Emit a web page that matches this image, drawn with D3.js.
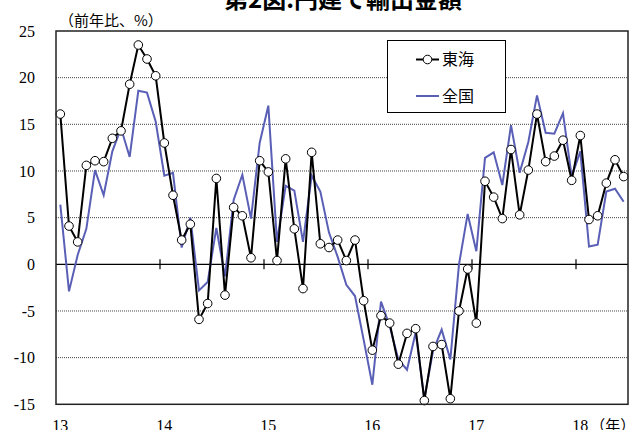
<!DOCTYPE html>
<html>
<head>
<meta charset="utf-8">
<script src="https://cdn.jsdelivr.net/npm/d3@7"></script>
<style>
  html, body { margin: 0; padding: 0; background: #fff; }
  svg { display: block; }
</style>
</head>
<body>
<svg id="chart" width="631" height="430"></svg>
<script>
// Monthly export value growth (yen basis), Jan 2013 – Jun 2018, year-on-year %
const months = d3.range(66).map(i => ({ year: 2013 + Math.floor(i / 12), month: (i % 12) + 1 }));

const tokai = [
  16.1, 4.1, 2.4, 10.6, 11.1, 11.0, 13.5, 14.3, 19.3, 23.5, 22.0, 20.2,
  13.0, 7.4, 2.6, 4.3, -5.9, -4.2, 9.2, -3.3, 6.1, 5.2, 0.7, 11.1,
  9.9, 0.4, 11.3, 3.8, -2.6, 12.0, 2.2, 1.8, 2.6, 0.4, 2.6, -3.9,
  -9.2, -5.5, -6.3, -10.7, -7.4, -6.9, -14.6, -8.8, -8.6, -14.4, -5.0, -0.5,
  -6.3, 8.9, 7.2, 4.9, 12.3, 5.3, 10.1, 16.1, 11.0, 11.6, 13.3, 9.0,
  13.8, 4.8, 5.2, 8.7, 11.2, 9.4
];

const zenkoku = [
  6.4, -2.9, 1.0, 3.8, 10.1, 7.4, 12.1, 14.6, 11.5, 18.6, 18.4, 15.3,
  9.5, 9.8, 1.8, 5.0, -2.8, -1.9, 3.9, -1.3, 6.9, 9.6, 4.9, 13.0,
  17.0, 2.4, 8.4, 7.9, 2.4, 9.5, 7.8, 3.4, 0.8, -2.2, -3.4, -8.1,
  -12.9, -4.0, -6.6, -10.2, -11.3, -7.3, -14.4, -9.3, -7.0, -10.2, 0.0, 5.4,
  1.4, 11.4, 12.0, 8.5, 14.9, 9.8, 13.1, 18.1, 14.1, 14.0, 16.2, 9.4,
  12.1, 1.9, 2.1, 7.8, 8.1, 6.7
];

const yearLabels = ["13", "14", "15", "16", "17", "18"];
const yTicks = [-15, -10, -5, 0, 5, 10, 15, 20, 25];
const seriesNames = ["東海", "全国"];

const svg = d3.select("#chart");
const W = 631, H = 430;
const plot = { left: 56, right: 628, top: 31, bottom: 404.3 };

const serif = "'Liberation Serif', 'Times New Roman', serif";
const cjk = "'Noto Sans CJK JP', 'Noto Sans', sans-serif";
const blue = "#5a5fb6";

// month index on a continuous scale: month i occupies [i, i+1]
const x = d3.scaleLinear().domain([0, months.length]).range([plot.left, plot.right]);
const y = d3.scaleLinear().domain([-15, 25]).range([plot.bottom, plot.top]);

// title
svg.append("text")
  .attr("x", 343).attr("y", 8)
  .attr("text-anchor", "middle")
  .attr("font-family", cjk).attr("font-weight", "bold")
  .attr("font-size", 24)
  .text("第2図:円建て輸出金額");

// unit label
svg.append("text")
  .attr("x", 59).attr("y", 26)
  .attr("font-family", cjk).attr("font-size", 15)
  .text("（前年比、%）");

// dotted gridlines
svg.append("g")
  .selectAll("line")
  .data(yTicks.filter(v => v !== 0 && v !== -15 && v !== 25))
  .join("line")
  .attr("x1", plot.left).attr("x2", plot.right)
  .attr("y1", d => y(d)).attr("y2", d => y(d))
  .attr("stroke", "#444").attr("stroke-width", 1)
  .attr("stroke-dasharray", "1,1");

// zero line with year ticks
svg.append("line")
  .attr("x1", plot.left).attr("x2", plot.right)
  .attr("y1", y(0)).attr("y2", y(0))
  .attr("stroke", "#000").attr("stroke-width", 1.2);

svg.append("g")
  .selectAll("line")
  .data(d3.range(1, yearLabels.length))
  .join("line")
  .attr("x1", k => x(k * 12)).attr("x2", k => x(k * 12))
  .attr("y1", y(0) - 5).attr("y2", y(0) + 5)
  .attr("stroke", "#000").attr("stroke-width", 1.2);

// y tick labels
svg.append("g")
  .selectAll("text")
  .data(yTicks)
  .join("text")
  .attr("x", 35).attr("y", d => y(d))
  .attr("dy", "0.35em")
  .attr("text-anchor", "end")
  .attr("font-family", serif).attr("font-size", 16)
  .text(d => d);

// x year labels, centred on each January
svg.append("g")
  .selectAll("text")
  .data(yearLabels)
  .join("text")
  .attr("x", (d, k) => x(k * 12 + 0.5))
  .attr("y", 431)
  .attr("text-anchor", "middle")
  .attr("font-family", serif).attr("font-size", 16)
  .text(d => d);

svg.append("text")
  .attr("x", x(5 * 12 + 0.5) + 10).attr("y", 431)
  .attr("font-family", cjk).attr("font-size", 15)
  .text("（年）");

// series lines
const line = d3.line()
  .x((d, i) => x(i + 0.5))
  .y(d => y(d));

svg.append("path")
  .datum(zenkoku)
  .attr("d", line)
  .attr("fill", "none")
  .attr("stroke", blue).attr("stroke-width", 2)
  .attr("stroke-linejoin", "miter");

svg.append("path")
  .datum(tokai)
  .attr("d", line)
  .attr("fill", "none")
  .attr("stroke", "#000").attr("stroke-width", 2);

svg.append("g")
  .selectAll("circle")
  .data(tokai)
  .join("circle")
  .attr("cx", (d, i) => x(i + 0.5))
  .attr("cy", d => y(d))
  .attr("r", 4.3)
  .attr("fill", "#fff")
  .attr("stroke", "#000").attr("stroke-width", 1);

// plot frame
svg.append("rect")
  .attr("x", plot.left).attr("y", plot.top)
  .attr("width", plot.right - plot.left).attr("height", plot.bottom - plot.top)
  .attr("fill", "none")
  .attr("stroke", "#222").attr("stroke-width", 1.5);

// legend
const lg = svg.append("g");
lg.append("rect")
  .attr("x", 387.5).attr("y", 40.5).attr("width", 118).attr("height", 72)
  .attr("fill", "#fff").attr("stroke", "#000").attr("stroke-width", 1);

const legendRows = [
  { name: seriesNames[0], color: "#000", marker: true, cy: 59.5 },
  { name: seriesNames[1], color: blue, marker: false, cy: 96 }
];
legendRows.forEach(r => {
  lg.append("line")
    .attr("x1", 416).attr("x2", 439).attr("y1", r.cy).attr("y2", r.cy)
    .attr("stroke", r.color).attr("stroke-width", 2);
  if (r.marker) {
    lg.append("circle")
      .attr("cx", 427.5).attr("cy", r.cy).attr("r", 4.3)
      .attr("fill", "#fff").attr("stroke", "#000").attr("stroke-width", 1);
  }
  lg.append("text")
    .attr("x", 442).attr("y", r.cy).attr("dy", "0.36em")
    .attr("font-family", cjk).attr("font-size", 16)
    .text(r.name);
});
</script>
</body>
</html>
